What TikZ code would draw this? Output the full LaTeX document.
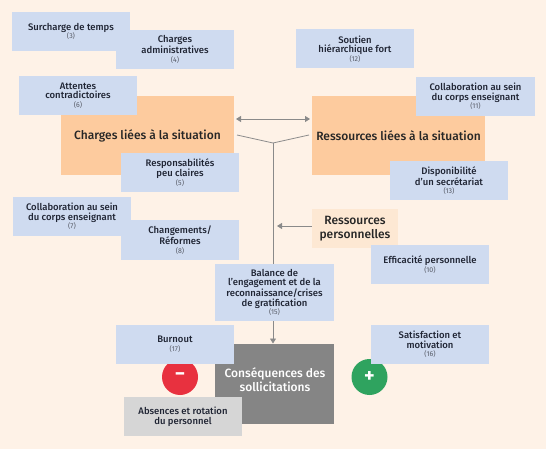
\documentclass[tikz,border=0pt]{standalone}
\usepackage{fontspec}
\setmainfont{Fira Sans}
\newfontfamily\medfont{Fira Sans Medium}
\usetikzlibrary{arrows.meta}
\definecolor{bgc}{HTML}{FEF2E7}
\definecolor{bluec}{HTML}{CFDBF0}
\definecolor{orangec}{HTML}{FDCB9E}
\definecolor{lightorange}{HTML}{FDE8D3}
\definecolor{greyc}{HTML}{858585}
\definecolor{lightgrey}{HTML}{D6D6D6}
\definecolor{linec}{HTML}{8A8A8A}
\definecolor{inkc}{HTML}{1F2433}
\definecolor{redc}{HTML}{E8313F}
\definecolor{greenc}{HTML}{2FA35F}
\newcommand{\num}[1]{\\[-1pt]{\fontsize{7}{8}\selectfont\rmfamily\mdseries\color{inkc!75}(#1)}}
\tikzset{
  x=1pt,y=-1pt,
  card/.style={fill=bluec,minimum width=118.5pt,minimum height=39pt,inner sep=0pt,align=center,
     text=inkc,font=\fontsize{9.5}{9.6}\selectfont\medfont},
  bigbox/.style={fill=orangec,minimum width=173pt,minimum height=79pt,inner sep=0pt,align=center,
     text=black!85,font=\fontsize{12}{14}\selectfont\medfont},
  disc/.style={circle,minimum size=36pt,inner sep=0pt,text=white,font=\fontsize{20}{20}\selectfont\bfseries},
  wire/.style={draw=linec,line width=0.8pt},
  tip/.style={-{Triangle[length=5pt,width=6pt]}},
  tips/.style={{Triangle[length=5pt,width=6pt]}-{Triangle[length=5pt,width=6pt]}}
}
\begin{document}
\begin{tikzpicture}
\fill[bgc] (0,0) rectangle (546,449);
\useasboundingbox (0,0) rectangle (546,449);
% anchors of the connectors
\coordinate (dl) at (236,119);
\coordinate (dr) at (310,119);
\coordinate (yl) at (237,135);
\coordinate (yr) at (309,135);
\coordinate (yj) at (273,143);
\coordinate (vend) at (273,343.5);
\coordinate (pt) at (277,226);
% big boxes
\node[bigbox] (charges) at (147.5,135.5) {Charges liées à la situation};
\node[bigbox] (ress) at (398.5,135.5) {Ressources liées à la situation};
\node[fill=lightorange,minimum width=86pt,minimum height=39pt,inner sep=0pt,align=center,text=black!85,
  font=\fontsize{12}{14}\selectfont\medfont] (pers) at (355,228.5) {Ressources\\personnelles};
% connectors
\draw[wire,tips] (dl) -- (dr);
\draw[wire] (yl) -- (yj) -- (yr);
\draw[wire,tip] (yj) -- (vend);
\draw[wire,tip] (pers.west |- pt) -- (pt);
% discs
\node[disc,fill=redc] (minus) at (180,377) {−};
\node[disc,fill=greenc] (plus) at (369.5,377) {+};
% consequence
\node[fill=greyc,minimum width=119pt,minimum height=80pt,inner sep=0pt] (cons) at (274.5,384) {};
\node[align=center,text=white,inner sep=0pt,font=\fontsize{12}{14}\selectfont\medfont] (constext) at (275,379.5) {Conséquences des\\sollicitations};
% blue cards
\node[card] (c3) at (71,31.5) {Surcharge de temps\num{3}};
\node[card] (c4) at (175,49.5) {Charges\\administratives\num{4}};
\node[card] (c6) at (78,95.5) {Attentes\\contradictoires\num{6}};
\node[card] (c5) at (180,172.5) {Responsabilités\\peu claires\num{5}};
\node[card] (c7) at (72,216.5) {Collaboration au sein\\du corps enseignant\num{7}};
\node[card] (c8) at (180,240) {Changements/\\Réformes\num{8}};
\node[card] (c12) at (355,49) {Soutien\\hiérarchique fort\num{12}};
\node[card] (c11) at (475.5,96.5) {Collaboration au sein\\du corps enseignant\num{11}};
\node[card] (c13) at (449,180.5) {Disponibilité\\d’un secrétariat\num{13}};
\node[card] (c10) at (430,264.5) {Efficacité personnelle\num{10}};
\node[card,minimum height=57pt] (c15) at (274.5,292.5) {Balance de\\l’engagement et de la\\reconnaissance/crises\\de gratification\num{15}};
\node[card] (c16) at (430,344.5) {Satisfaction et\\motivation\num{16}};
\node[card] (c17) at (175,344.5) {Burnout\num{17}};
\node[card,fill=lightgrey] (abs) at (183,416.5) {Absences et rotation\\du personnel};
\end{tikzpicture}
\end{document}
